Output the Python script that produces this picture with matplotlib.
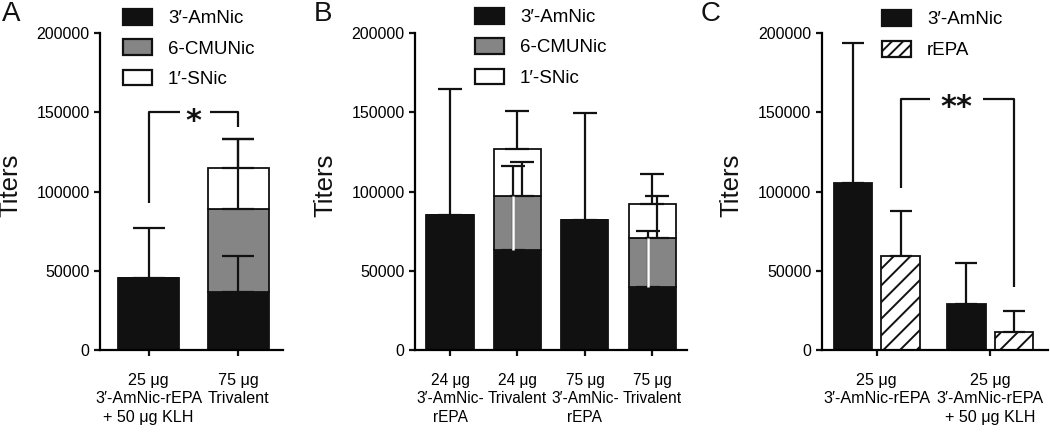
import matplotlib
matplotlib.use("Agg")
import matplotlib.pyplot as plt
import numpy as np
from matplotlib.patches import Patch

plt.rcParams['font.family'] = ['Liberation Sans', 'DejaVu Sans']
plt.rcParams['hatch.linewidth'] = 1.4

# ---------------- data ----------------
series_names_ab = ['3′-AmNic', '6-CMUNic', '1′-SNic']
series_names_c = ['3′-AmNic', 'rEPA']

A_labels = ['25 μg\n3′-AmNic-rEPA\n+ 50 μg KLH', '75 μg\nTrivalent']
A_amnic = [45500, 36800]
A_amnic_sd = [31500, 22700]
A_cmunic = [0, 52200]
A_cmunic_sd = [0, 44000]
A_snic = [0, 26000]
A_snic_sd = [0, 18000]

B_labels = ['24 μg\n3′-AmNic-\nrEPA', '24 μg\nTrivalent', '75 μg\n3′-AmNic-\nrEPA', '75 μg\nTrivalent']
B_amnic = [85500, 63000, 82000, 40000]
B_amnic_sd = [79500, 53000, 67600, 35200]
B_cmunic = [0, 34300, 0, 31000]
B_cmunic_sd = [0, 21500, 0, 26300]
B_snic = [0, 29900, 0, 21000]
B_snic_sd = [0, 23500, 0, 19400]

C_labels = ['25 μg\n3′-AmNic-rEPA', '25 μg\n3′-AmNic-rEPA\n+ 50 μg KLH']
C_amnic = [105500, 29000]
C_amnic_sd = [88200, 25800]
C_repa = [59600, 11200]
C_repa_sd = [28400, 13600]

y_ticks = [0, 50000, 100000, 150000, 200000]

# significance brackets: (x_left, x_right, y_bar, y_left_end, y_right_end, gap_l, gap_r, star_x, text)
sig_A = (0, 1, 150000, 92800, 140700, 0.35, 0.68, 0.50, '*')
sig_C = (0.21, 1.21, 158500, 102000, 40000, 0.47, 0.94, 0.705, '**')

# ---------------- style ----------------
BLACK = '#111111'
GRAY = '#858585'
W, H = 1050, 438
fig = plt.figure(figsize=(W / 100, H / 100), dpi=100)

def px_axes(l, r, b=350, t=33.3):
    return fig.add_axes([l / W, 1 - b / H, (r - l) / W, (b - t) / H])

def style(ax, xlim, labels, xfs=11.6):
    for s in ['top', 'right']:
        ax.spines[s].set_visible(False)
    for s in ['left', 'bottom']:
        ax.spines[s].set_linewidth(1.6)
    ax.set_ylim(0, 200000)
    ax.set_xlim(*xlim)
    ax.set_yticks(y_ticks)
    ax.set_yticklabels([str(v) for v in y_ticks], fontsize=11.5)
    ax.set_xticks(range(len(labels)))
    ax.set_xticklabels(labels, fontsize=xfs, linespacing=1.28)
    ax.tick_params(axis='both', direction='out', length=4, width=1.6, color=BLACK)
    ax.tick_params(axis='y', pad=3.5)
    ax.tick_params(axis='x', pad=12.5)

def errs(ax, x, base, sd, capsize):
    x = np.asarray(x, float); base = np.asarray(base, float); sd = np.asarray(sd, float)
    m = sd > 0
    ax.errorbar(x[m], base[m], yerr=[np.zeros(m.sum()), sd[m]], fmt='none',
                ecolor=BLACK, elinewidth=1.6, capsize=capsize, capthick=1.6, zorder=5)

def sig(ax, s):
    xl, xr, yb, yl, yr, gl, gr, sx, txt = s
    ax.plot([xl, xl, gl], [yl, yb, yb], color=BLACK, lw=1.6, solid_capstyle='butt', clip_on=False)
    ax.plot([gr, xr, xr], [yb, yb, yr], color=BLACK, lw=1.6, solid_capstyle='butt', clip_on=False)
    ax.annotate(txt, (sx, yb), xytext=(0, -12.5), textcoords='offset points',
                ha='center', va='baseline', fontsize=22, fontweight='bold',
                family='DejaVu Sans', color=BLACK)

def legend(ax, handles, labels, x, y, spacing=0.64):
    ax.legend(handles=handles, labels=labels, loc='upper left', bbox_to_anchor=(x / W, 1 - y / H),
              bbox_transform=fig.transFigure, frameon=False, fontsize=13.5,
              handlelength=1.55, handleheight=0.9, handletextpad=0.85,
              labelspacing=spacing, borderpad=0, borderaxespad=0)

# ---------------- Panel A ----------------
axA = px_axes(100, 283)
xA = np.arange(len(A_labels))
wA = 0.68
b1 = np.array(A_amnic); b2 = b1 + np.array(A_cmunic); b3 = b2 + np.array(A_snic)
axA.bar(xA, A_amnic, wA, color=BLACK, edgecolor=BLACK, lw=1.3, zorder=2)
axA.bar(xA, A_cmunic, wA, bottom=b1, color=GRAY, edgecolor=BLACK, lw=1.3, zorder=2)
axA.bar(xA, A_snic, wA, bottom=b2, color='white', edgecolor=BLACK, lw=1.3, zorder=2)
errs(axA, xA, b1, A_amnic_sd, 11.5)
errs(axA, xA, np.where(np.array(A_cmunic) > 0, b2, 0), A_cmunic_sd, 11.5)
errs(axA, xA, np.where(np.array(A_snic) > 0, b3, 0), A_snic_sd, 11.5)
style(axA, (-0.543, 1.5), A_labels)
sig(axA, sig_A)
legend(axA, [Patch(facecolor=BLACK, edgecolor=BLACK, lw=1.6),
             Patch(facecolor=GRAY, edgecolor=BLACK, lw=1.6),
             Patch(facecolor='white', edgecolor=BLACK, lw=1.6)], series_names_ab, 123, 9)

# ---------------- Panel B ----------------
axB = px_axes(415, 686.7)
xB = np.arange(len(B_labels))
wB = 0.70
c1 = np.array(B_amnic); c2 = c1 + np.array(B_cmunic); c3 = c2 + np.array(B_snic)
stacked = np.array(B_cmunic) > 0
off_a = np.where(stacked, -0.066, 0.0)
off_c = np.where(stacked, 0.07, 0.0)
axB.bar(xB, B_amnic, wB, color=BLACK, edgecolor=BLACK, lw=1.3, zorder=2)
axB.bar(xB, B_cmunic, wB, bottom=c1, color=GRAY, edgecolor=BLACK, lw=1.3, zorder=2)
axB.bar(xB, B_snic, wB, bottom=c2, color='white', edgecolor=BLACK, lw=1.3, zorder=2)
errs(axB, xB + off_a, c1, B_amnic_sd, 8.6)
errs(axB, xB + off_c, np.where(stacked, c2, 0), B_cmunic_sd, 8.6)
errs(axB, xB, np.where(np.array(B_snic) > 0, c3, 0), B_snic_sd, 8.6)
# error line of the lowest segment shows as a light line inside the grey segment
axB.vlines((xB + off_a)[stacked], c1[stacked], c2[stacked], colors='white', lw=1.8, zorder=6)
style(axB, (-0.52, 3.51), B_labels, xfs=11.2)
legend(axB, [Patch(facecolor=BLACK, edgecolor=BLACK, lw=1.6),
             Patch(facecolor=GRAY, edgecolor=BLACK, lw=1.6),
             Patch(facecolor='white', edgecolor=BLACK, lw=1.6)], series_names_ab, 475, 8)

# ---------------- Panel C ----------------
axC = px_axes(821.7, 1048)
xC = np.arange(len(C_labels))
wC, offC = 0.34, 0.21
axC.bar(xC - offC, C_amnic, wC, color=BLACK, edgecolor=BLACK, lw=1.3, zorder=2)
axC.bar(xC + offC, C_repa, wC, color='white', edgecolor=BLACK, lw=1.3, hatch='//', zorder=2)
errs(axC, xC - offC, C_amnic, C_amnic_sd, 7.6)
errs(axC, xC + offC, C_repa, C_repa_sd, 7.6)
style(axC, (-0.485, 1.51), C_labels)
sig(axC, sig_C)
legend(axC, [Patch(facecolor=BLACK, edgecolor=BLACK, lw=1.6),
             Patch(facecolor='white', edgecolor=BLACK, lw=1.6, hatch='///')], series_names_c,
       882, 10, spacing=0.68)

# ---------------- labels ----------------
for lx, letter in [(2, 'A'), (314, 'B'), (701, 'C')]:
    fig.text(lx / W, 1 - 1 / H, letter, fontsize=20, ha='left', va='top', color=BLACK)
for cx in [10, 325, 731]:
    fig.text(cx / W, 1 - 185 / H, 'Titers', fontsize=18.5, rotation=90, ha='center', va='center', color=BLACK)

fig.savefig('out.png', dpi=100)
